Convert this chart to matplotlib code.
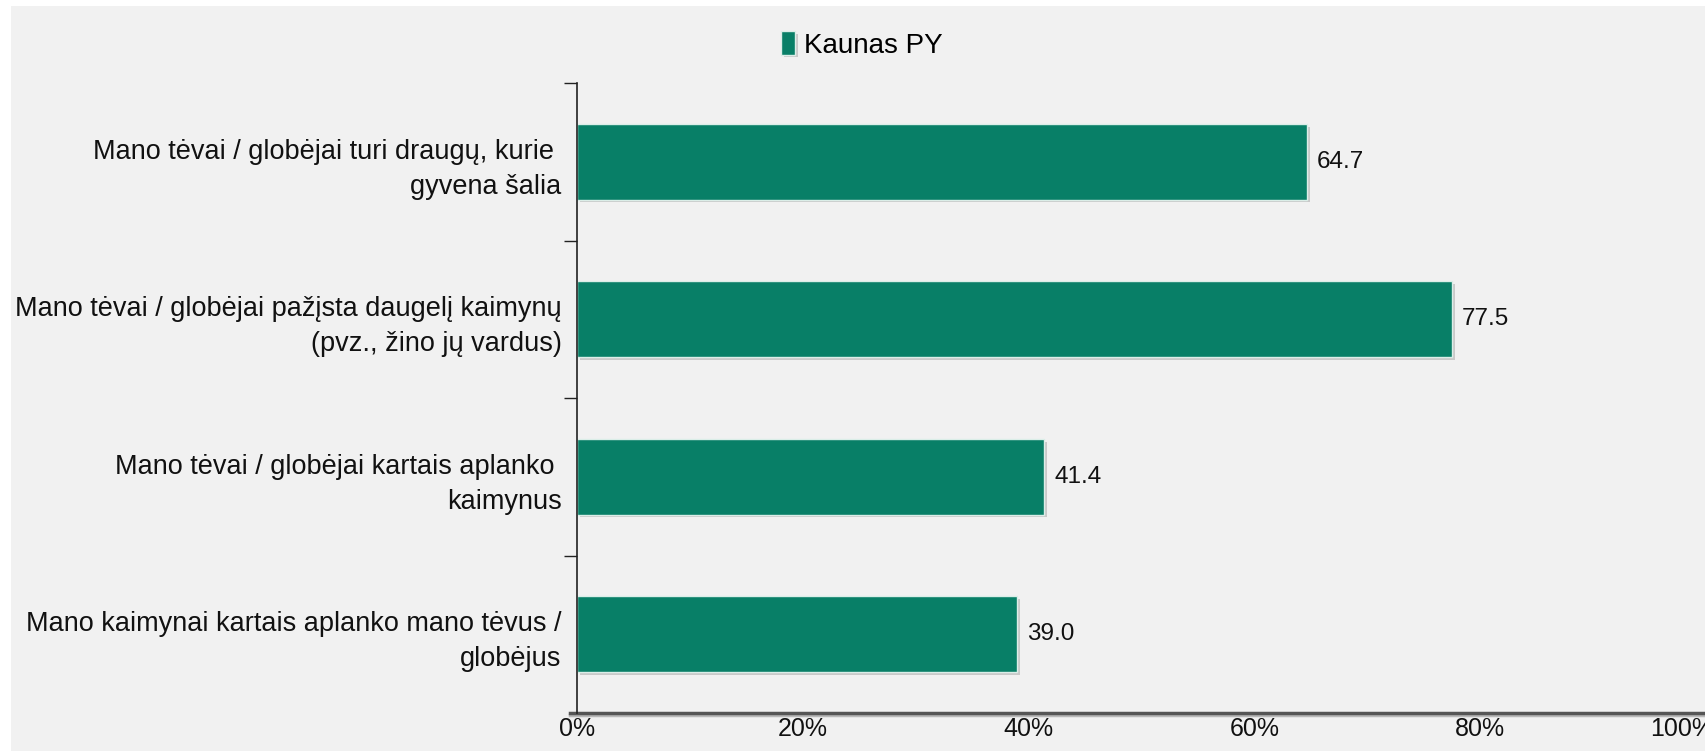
import numpy as np
import matplotlib.pyplot as plt
import matplotlib.patheffects as pe
from matplotlib.patches import Rectangle
from matplotlib.transforms import ScaledTranslation


categories = [
    "Mano tėvai / globėjai turi draugų, kurie \ngyvena šalia",
    "Mano tėvai / globėjai pažįsta daugelį kaimynų\n(pvz., žino jų vardus)",
    "Mano tėvai / globėjai kartais aplanko \nkaimynus",
    "Mano kaimynai kartais aplanko mano tėvus /\nglobėjus",
]
values = [64.7, 77.5, 41.4, 39.0]
series_name = "Kaunas PY"
x_ticks = [0, 20, 40, 60, 80, 100]

BAR_COLOR = "#087f67"
PANEL_COLOR = "#f1f1f1"

plt.rcParams["font.family"] = ["Liberation Sans", "DejaVu Sans"]

fig = plt.figure(figsize=(17.06, 7.51), dpi=100)
fig.patch.set_facecolor("white")

# grey panel behind the chart, leaving a thin white strip on top and left
fig.patches.append(Rectangle((11 / 1706, 0), 1 - 11 / 1706, 1 - 6 / 751,
                             transform=fig.transFigure, facecolor=PANEL_COLOR,
                             edgecolor="none", zorder=-10))

ax = fig.add_axes([577 / 1706, 1 - 713 / 751, 1 - 577 / 1706, (713 - 83) / 751])
ax.set_facecolor("none")

y = np.arange(len(categories))
bars = ax.barh(y, values, height=0.48, color=BAR_COLOR, edgecolor="#dbeee8",
               linewidth=1.0, zorder=3, label=series_name)
for b in bars:
    b.set_path_effects([pe.SimplePatchShadow(offset=(2, -2), shadow_rgbFace="#b8b8b8", alpha=0.7),
                        pe.Normal()])

for b, v in zip(bars, values):
    ax.annotate(f"{v:.1f}", (b.get_width(), b.get_y() + b.get_height() / 2),
                xytext=(7, 0), textcoords="offset points", va="center", ha="left",
                fontsize=17.5, color="#111111")

ax.set_xlim(0, 100)
ax.set_ylim(len(categories) - 0.5, -0.5)

ax.set_yticks(y)
ax.set_yticklabels(categories, fontsize=19.5, linespacing=1.45, color="#111111")
ax.set_yticks(np.arange(-0.5, len(categories) - 1, 1), minor=True)
ax.tick_params(axis="y", which="major", length=0, pad=11)
ax.tick_params(axis="y", which="minor", length=9.5, width=1, color="#222222")

ax.set_xticks(x_ticks)
ax.set_xticklabels([f"{t}%" for t in x_ticks], fontsize=18, color="#111111")
ax.tick_params(axis="x", length=0, pad=3)
# keep the last tick label from running too far past the edge
last = ax.get_xticklabels()[-1]
last.set_transform(last.get_transform() + ScaledTranslation(-24 / 100, 0, fig.dpi_scale_trans))

for side in ("top", "right"):
    ax.spines[side].set_visible(False)
ax.spines["left"].set_color("#222222")
ax.spines["left"].set_linewidth(1.2)
ax.spines["left"].set_zorder(4)
ax.spines["bottom"].set_color("#555555")
ax.spines["bottom"].set_linewidth(2.5)
ax.spines["bottom"].set_bounds(-0.6, 100)
ax.spines["bottom"].set_path_effects([pe.SimpleLineShadow(offset=(0, -1.5), shadow_color="#aaaaaa", alpha=0.8),
                                      pe.Normal()])

fig.legend(loc="center", bbox_to_anchor=(862 / 1706, 1 - 45 / 751), frameon=False,
           fontsize=20, handlelength=0.5, handleheight=0.9, handletextpad=0.35,
           borderaxespad=0)

fig.savefig("out.png", dpi=100, facecolor=fig.get_facecolor())
